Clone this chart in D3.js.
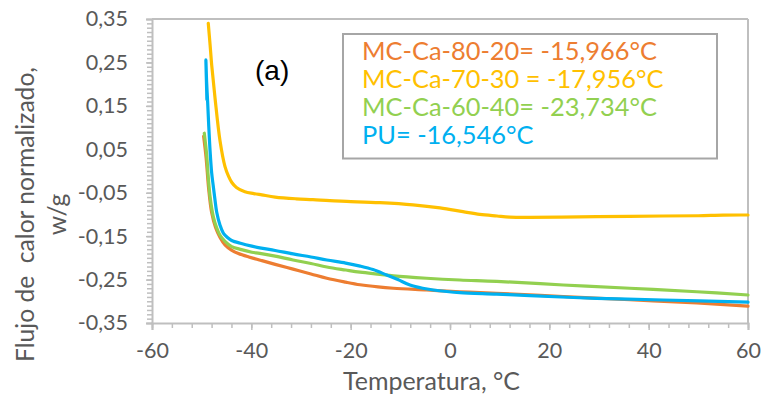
<!DOCTYPE html>
<html><head><meta charset="utf-8">
<script src="https://cdn.jsdelivr.net/npm/d3@7"></script>
<style>html,body{margin:0;padding:0;background:#fff;}svg{display:block;}</style>
</head><body><svg id="c" width="763" height="395"></svg>
<script>
// ---- data ----
const seriesNames = ["MC-Ca-80-20= -15,966°C", "MC-Ca-70-30 = -17,956°C", "MC-Ca-60-40= -23,734°C", "PU= -16,546°C"];
const seriesColors = ["#ED7D31", "#FFC000", "#92D050", "#00B0F0"];
const xTicks = [-60, -40, -20, 0, 20, 40, 60];
const yTicks = [-0.35, -0.25, -0.15, -0.05, 0.05, 0.15, 0.25, 0.35];

const mc8020 = [[-49.6,0.080],[-49.1,0.030],[-48.6,-0.040],[-48.0,-0.095],[-47.2,-0.130],[-46.3,-0.153],[-45.3,-0.170],[-44.0,-0.182],[-42.6,-0.190],[-40.5,-0.198],[-38.0,-0.206],[-35.2,-0.215],[-31.6,-0.226],[-28,-0.237],[-24.8,-0.247],[-21,-0.256],[-18.1,-0.262],[-14.5,-0.267],[-11.4,-0.270],[-4.7,-0.274],[2.0,-0.278],[9.4,-0.2815],[22.8,-0.289],[36.2,-0.2965],[49.7,-0.304],[60,-0.311]];
const mc7030 = [[-48.67,0.340],[-48.3,0.29],[-47.98,0.244],[-47.3,0.167],[-46.3,0.069],[-45.3,0.010],[-44.6,-0.012],[-43.96,-0.026],[-43,-0.038],[-41.3,-0.048],[-39.5,-0.052],[-37.9,-0.055],[-35.2,-0.060],[-31,-0.064],[-27.6,-0.066],[-24.2,-0.0684],[-20.8,-0.070],[-14.1,-0.073],[-7.45,-0.078],[-2,-0.085],[2.6,-0.0937],[6,-0.100],[9.46,-0.1036],[12,-0.106],[16.1,-0.1066],[22,-0.1062],[29.6,-0.1052],[42.9,-0.1036],[50,-0.103],[55,-0.1015],[60,-0.1013]];
const mc6040 = [[-49.47,0.087],[-48.99,0.037],[-48.7,-0.010],[-48.3,-0.060],[-47.66,-0.105],[-47.0,-0.130],[-46.3,-0.148],[-45.3,-0.162],[-43.96,-0.174],[-42,-0.181],[-39.9,-0.187],[-38.3,-0.1895],[-35.2,-0.196],[-31.6,-0.205],[-28,-0.213],[-24.8,-0.221],[-21,-0.228],[-18.1,-0.233],[-14.1,-0.238],[-11.4,-0.2415],[-4.7,-0.247],[2.0,-0.251],[9.4,-0.254],[22.8,-0.2625],[36.2,-0.270],[49.7,-0.278],[60,-0.2855]];
const pu = [[-48.95,0.165],[-49.15,0.256],[-49.0,0.205],[-48.8,0.16],[-48.6,0.11],[-48.3,0.045],[-47.98,-0.005],[-47.66,-0.035],[-47.3,-0.068],[-46.97,-0.095],[-46.3,-0.125],[-45.64,-0.143],[-44.8,-0.153],[-43.96,-0.160],[-42,-0.167],[-39.9,-0.173],[-38.3,-0.177],[-35.2,-0.183],[-31.6,-0.191],[-28,-0.198],[-24.8,-0.205],[-21,-0.212],[-18.1,-0.219],[-15.5,-0.227],[-12.75,-0.2395],[-10.5,-0.250],[-8.06,-0.2625],[-5.5,-0.270],[-3.37,-0.274],[-0.67,-0.2775],[2.0,-0.280],[9.4,-0.2835],[16.1,-0.287],[29.5,-0.2932],[42.9,-0.297],[60,-0.302]];
const seriesData = [mc8020, mc7030, mc6040, pu];

// ---- layout ----
const svg = d3.select("#c");
const L = 152, R = 748, T = 19, B = 323;
const x = d3.scaleLinear().domain([-60, 60]).range([L, R]);
const y = d3.scaleLinear().domain([-0.35, 0.35]).range([B, T]);
const loc = d3.formatLocale({decimal: ",", thousands: ".", grouping: [3], currency: ["", ""], minus: "-"});
const fmtY = loc.format(".2f");
const axisCol = "#BFBFBF", textCol = "#595959";
const font = "Lato, 'Open Sans', sans-serif";

// fit a text element's font size so its width matches a target width
function fit(sel, target, base) {
  sel.style("font-size", base + "px");
  const w = sel.node().getComputedTextLength();
  if (w > 0) sel.style("font-size", (base * target / w).toFixed(2) + "px");
}

// border top & right
svg.append("line").attr("x1", L).attr("x2", R).attr("y1", T).attr("y2", T).attr("stroke", axisCol).attr("stroke-width", 2);
svg.append("line").attr("x1", R).attr("x2", R).attr("y1", T).attr("y2", B).attr("stroke", axisCol).attr("stroke-width", 2);

// minor ticks
const yMinor = d3.range(-35, 36).map(d => d / 100);
const xMinor = d3.range(-60, 61, 4);
svg.append("g").attr("transform", `translate(${L},0)`)
  .call(d3.axisLeft(y).tickValues(yMinor).tickSize(5).tickFormat(""))
  .call(g => g.selectAll("line").attr("stroke", axisCol).attr("stroke-width", 1.5))
  .call(g => g.select(".domain").remove());
svg.append("g").attr("transform", `translate(0,${B})`)
  .call(d3.axisBottom(x).tickValues(xMinor).tickSize(5).tickFormat(""))
  .call(g => g.selectAll("line").attr("stroke", axisCol).attr("stroke-width", 1.5))
  .call(g => g.select(".domain").remove());

// major axes
const gy = svg.append("g").attr("transform", `translate(${L},0)`)
  .call(d3.axisLeft(y).tickValues(yTicks).tickSize(6).tickPadding(18).tickFormat(fmtY));
const gx = svg.append("g").attr("transform", `translate(0,${B})`)
  .call(d3.axisBottom(x).tickValues(xTicks).tickSize(7).tickPadding(13).tickFormat(loc.format("d")));
[gy, gx].forEach(g => {
  g.select(".domain").attr("stroke", axisCol).attr("stroke-width", 2);
  g.selectAll("line").attr("stroke", axisCol).attr("stroke-width", 1.5);
  g.selectAll("text").attr("fill", textCol).style("font-family", font).style("font-size", "21.5px");
});

// lines
const line = d3.line().x(d => x(d[0])).y(d => y(d[1])).curve(d3.curveCatmullRom.alpha(0.5));
svg.append("g").selectAll("path").data(seriesData).join("path")
  .attr("d", line).attr("fill", "none")
  .attr("stroke", (d, i) => seriesColors[i]).attr("stroke-width", 3.2)
  .attr("stroke-linejoin", "round").attr("stroke-linecap", "round");

// axis titles
const xt = svg.append("text").attr("x", 343).attr("y", 390)
  .attr("fill", textCol).style("font-family", font).text("Temperatura, °C");
fit(xt, 177, 25);
const yt = svg.append("text").attr("transform", "translate(34,214.5) rotate(-90)").attr("text-anchor", "middle")
  .attr("fill", textCol).style("font-family", font).attr("xml:space", "preserve");
const yt1 = yt.append("tspan").attr("x", 0).attr("y", 0).text("Flujo de  calor normalizado,");
yt.append("tspan").attr("x", 0).attr("y", 32).text("w/g");
fit(yt, 295 + 0, 25);
// the whole text includes both lines; refit on the first line only
{
  const fs = parseFloat(yt.style("font-size"));
  const w1 = yt1.node().getComputedTextLength();
  if (w1 > 0) yt.style("font-size", (fs * 295 / w1).toFixed(2) + "px");
}

// panel label
svg.append("text").attr("x", 255).attr("y", 80).attr("fill", "#000")
  .style("font-family", "'Liberation Sans', Arial, sans-serif").style("font-size", "28px").text("(a)");

// legend
svg.append("rect").attr("x", 343).attr("y", 34).attr("width", 374).attr("height", 124.5)
  .attr("fill", "#fff").attr("stroke", "#A6A6A6").attr("stroke-width", 2);
const lt = svg.append("g").selectAll("text").data(seriesNames).join("text")
  .attr("x", 362).attr("y", (d, i) => 60 + i * 28)
  .attr("fill", (d, i) => seriesColors[i]).style("font-family", font)
  .text(d => d);
{
  const first = lt.filter((d, i) => i === 0);
  first.style("font-size", "25px");
  const w = first.node().getComputedTextLength();
  const fs = w > 0 ? 25 * 295 / w : 25;
  lt.style("font-size", fs.toFixed(2) + "px");
}
</script></body></html>
